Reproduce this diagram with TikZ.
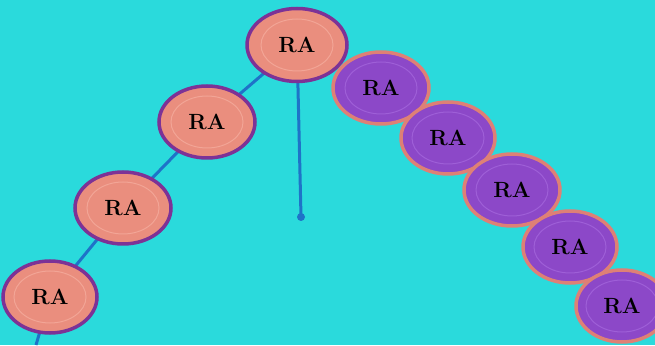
\documentclass[tikz,border=0pt]{standalone}
\usepackage{fontspec}
\setmainfont{Latin Modern Roman}
\usetikzlibrary{shapes.geometric}
\definecolor{bg}{RGB}{42,218,220}
\definecolor{salmon}{RGB}{234,142,126}
\definecolor{salmonlt}{RGB}{242,165,150}
\definecolor{rimpurple}{RGB}{125,50,150}
\definecolor{violet}{RGB}{140,72,200}
\definecolor{violetlt}{RGB}{158,95,215}
\definecolor{rimsalmon}{RGB}{222,128,118}
\definecolor{stick}{RGB}{30,115,200}
\tikzset{
  disc/.style={ellipse, minimum width=96pt, minimum height=72pt, inner sep=0pt,
    line width=3.5pt, font=\fontsize{22}{22}\selectfont\bfseries, text=black},
  pinkdisc/.style={disc, draw=rimpurple, fill=salmon,
    path picture={\draw[salmonlt, line width=1pt] (path picture bounding box.center) ellipse (36pt and 26pt);}},
  purpledisc/.style={disc, draw=rimsalmon, fill=violet,
    path picture={\draw[violetlt, line width=1pt] (path picture bounding box.center) ellipse (36pt and 26pt);}},
  stickline/.style={draw=stick, line width=3pt},
}
\begin{document}
\begin{tikzpicture}[x=1pt,y=1pt]
\fill[bg] (0,0) rectangle (655,345);
\useasboundingbox (0,0) rectangle (655,345);
\coordinate (tail) at (36,0);
\coordinate (dot) at (301,128);
\coordinate (p1) at (297,300);
\coordinate (p2) at (207,223);
\coordinate (p3) at (123,137);
\coordinate (p4) at (50,48);
% connectors (behind discs)
\draw[stickline] (tail) -- (p4) -- (p3) -- (p2) -- (p1);
\draw[stickline] (p1) -- (dot);
\fill[stick] (dot) circle (4pt);
% salmon discs
\node[pinkdisc, minimum width=100pt, minimum height=73pt] (s1) at (p1) {RA};
\node[pinkdisc] (s2) at (p2) {RA};
\node[pinkdisc] (s3) at (p3) {RA};
\node[pinkdisc, minimum width=94pt] (s4) at (p4) {RA};
% purple discs
\node[purpledisc] (v1) at (381,257) {RA};
\node[purpledisc, minimum width=94pt] (v2) at (448,207) {RA};
\node[purpledisc] (v3) at (512,155) {RA};
\node[purpledisc, minimum width=94pt] (v4) at (570,98) {RA};
\node[purpledisc, minimum width=92pt] (v5) at (622,39) {RA};
\end{tikzpicture}
\end{document}
